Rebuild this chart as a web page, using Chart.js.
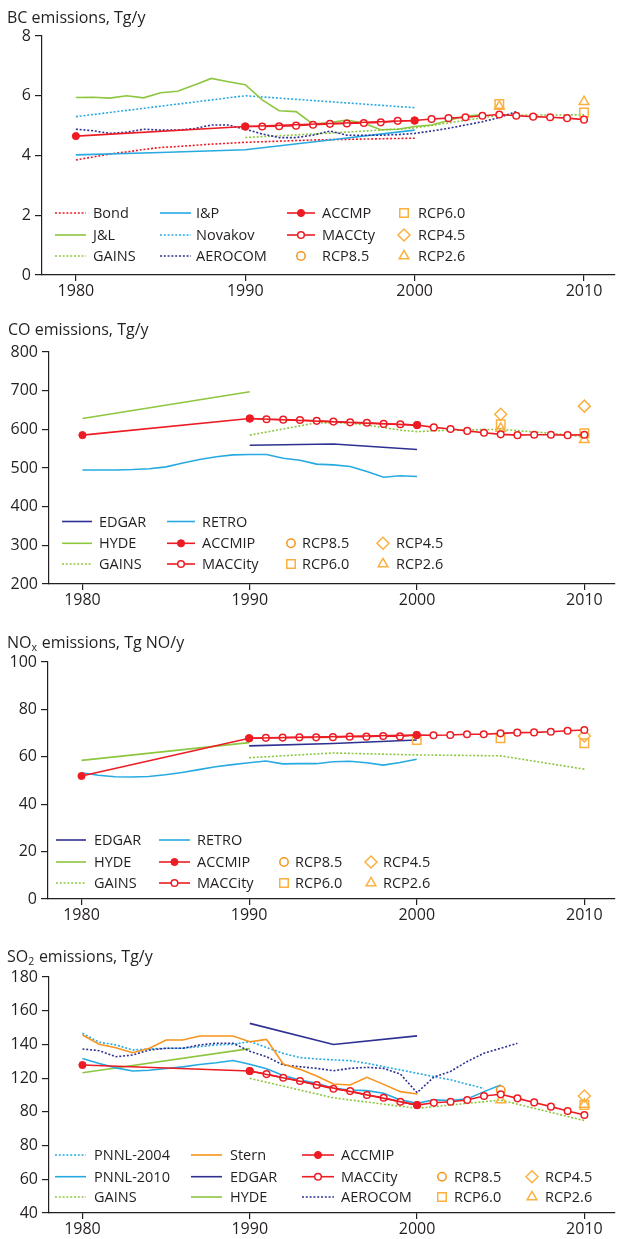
<!DOCTYPE html>
<html><head><meta charset="utf-8">
<script src="https://cdn.jsdelivr.net/npm/chart.js@4.4.1/dist/chart.umd.min.js"></script>
<style>
html,body{margin:0;padding:0;background:#fff;}
body{width:622px;height:1239px;position:relative;overflow:hidden;}
canvas{position:absolute;left:0;}
</style></head><body>
<canvas id="bc" width="622" height="300" style="top:0px"></canvas>
<canvas id="co" width="622" height="310" style="top:300px"></canvas>
<canvas id="nox" width="622" height="318" style="top:610px"></canvas>
<canvas id="so2" width="622" height="311" style="top:928px"></canvas>
<script>
// ---------- shared categories ----------
const X_TICKS = [1980, 1990, 2000, 2010];
const Y80_00 = [1980,1981,1982,1983,1984,1985,1986,1987,1988,1989,1990,1991,1992,1993,1994,1995,1996,1997,1998,1999,2000];
const Y90_10 = [1990,1991,1992,1993,1994,1995,1996,1997,1998,1999,2000,2001,2002,2003,2004,2005,2006,2007,2008,2009,2010];
const Y80_04 = [1980,1981,1982,1983,1984,1985,1986,1987,1988,1989,1990,1991,1992,1993,1994,1995,1996,1997,1998,1999,2000,2001,2002,2003,2004];
const Y80_05 = [1980,1981,1982,1983,1984,1985,1986,1987,1988,1989,1990,1991,1992,1993,1994,1995,1996,1997,1998,1999,2000,2001,2002,2003,2004,2005];
const Y80_06 = [1980,1981,1982,1983,1984,1985,1986,1987,1988,1989,1990,1991,1992,1993,1994,1995,1996,1997,1998,1999,2000,2001,2002,2003,2004,2005,2006];
const Y80_90_00 = [1980, 1990, 2000];
const Y80_90 = [1980, 1990];
const Y90_95_00 = [1990, 1995, 2000];
const Y90_5YR = [1990, 1995, 2000, 2005, 2010];
const Y80_85_90_95_00 = [1980, 1985, 1990, 1995, 2000];
const Y05_10 = [2005, 2010];

// ---------- BC ----------
const BC_Y_TICKS = [0, 2, 4, 6, 8];
const BC_Y_LABELS = ["0", "2", "4", "6", "8"];
const BC_BOND = [3.85,3.95,4.05,4.12,4.2,4.27,4.3,4.34,4.38,4.41,4.44,4.46,4.48,4.5,4.52,4.53,4.54,4.55,4.56,4.57,4.58];
const BC_JL = [5.94,5.95,5.92,6.0,5.93,6.1,6.15,6.36,6.58,6.47,6.37,5.86,5.5,5.47,5.05,5.1,5.19,5.08,4.86,4.88,4.97,5.02,5.17,5.32,5.36];
const BC_IP = [4.02,4.1,4.19,4.52,4.85];
const BC_NOVAKOV = [5.3,6.0,5.6];
const BC_GAINS = [4.6,4.75,4.92,5.35,5.36];
const BC_AEROCOM = [4.88,4.83,4.74,4.78,4.88,4.85,4.85,4.9,5.02,5.02,4.88,4.72,4.6,4.6,4.68,4.82,4.68,4.68,4.68,4.7,4.74,4.82,4.91,5.02,5.13,5.27,5.47];
const BC_ACCMIP = [4.65,4.97,5.17];
const BC_MACCITY = [4.97,4.97,4.98,5.0,5.03,5.06,5.07,5.09,5.11,5.16,5.17,5.22,5.25,5.28,5.33,5.37,5.33,5.30,5.28,5.25,5.2];
const BC_RCP60 = [5.72,5.44];
const BC_RCP26 = [5.64,5.8];

// ---------- CO ----------
const CO_Y_TICKS = [200,300,400,500,600,700,800];
const CO_Y_LABELS = ["200","300","400","500","600","700","800"];
const CO_EDGAR = [559,562,548];
const CO_RETRO = [495,495,495,496,498,503,513,522,529,534,535,535,525,520,510,508,504,491,476,480,478];
const CO_HYDE = [628,697];
const CO_ACCMIP = [585,628,611];
const CO_MACCITY = [628,626,625,624,622,620,618,617,614,613,611,605,601,596,591,587,585,586,586,585,586];
const CO_GAINS_YEARS = [1990,1993,1994,1996,1997,1999,2000,2002,2005,2008,2010];
const CO_GAINS = [585,609,617,616,611,598,594,598,600,590,581];
const CO_RCP60 = [613,590];
const CO_RCP45 = [639,660];
const CO_RCP26 = [602,573];

// ---------- NOx ----------
const NOX_Y_TICKS = [0,20,40,60,80,100];
const NOX_Y_LABELS = ["0","20","40","60","80","100"];
const NOX_EDGAR = [64.6,65.6,67.1];
const NOX_RETRO = [53.3,52.2,51.6,51.5,51.7,52.4,53.4,54.6,55.8,56.7,57.5,58.2,57.0,57.1,57.1,57.9,58.1,57.5,56.5,57.6,59.0];
const NOX_HYDE = [58.5,66.0];
const NOX_ACCMIP = [51.9,67.8,69.2];
const NOX_MACCITY = [67.8,68.0,68.1,68.2,68.2,68.3,68.5,68.5,68.8,68.6,69.2,69.1,69.2,69.5,69.5,69.9,70.2,70.3,70.6,71.0,71.3];
const NOX_GAINS = [59.6,61.6,60.8,60.4,54.8];
const NOX_RCP60_YEARS = [2000,2005,2010];
const NOX_RCP60 = [67.1,67.8,65.7];
const NOX_RCP45_YEARS = [2010];
const NOX_RCP45 = [68.8];

// ---------- SO2 ----------
const SO2_Y_TICKS = [40,60,80,100,120,140,160,180];
const SO2_Y_LABELS = ["40","60","80","80","120","140","160","180"];
const SO2_PNNL2004 = [146.6,141.3,139.7,136.7,137.3,137.7,137.7,138.7,139.7,140.1,141.7,138.2,134.7,132.2,131.4,130.8,130.4,128.8,126.8,124.9,122.9,120.9,119,116.4,113.9];
const SO2_PNNL2010 = [131.7,128.7,126.1,124.2,124.7,125.7,126.7,128.1,129.1,130.5,128.2,125.6,121.5,118.9,116.9,114,113,112.6,111,107.1,105.1,107.1,106.7,107.7,112,116];
const SO2_GAINS = [119.9,108.3,102.1,107,94.8];
const SO2_STERN = [145.6,140.1,138,135.1,137.7,142.6,142.6,145,145,145,141.6,143,128.4,125.2,121.3,116.5,115.9,120.5,116.3,112,110.6];
const SO2_EDGAR = [152.5,140,145.1];
const SO2_HYDE = [123.2,137.5];
const SO2_ACCMIP = [127.8,124.2,104];
const SO2_MACCITY = [124.2,122.4,120.2,118.3,115.9,113.7,112.3,110,108.4,106,104,105.4,106,107,109.4,110.4,108,105.6,103.1,100.5,98.1];
const SO2_AEROCOM = [137.3,136.3,132.7,133.7,136.7,137.7,137.7,139.7,140.7,140.7,136,132.7,127.8,126.8,125.8,124.4,125.8,126.4,125.8,122.4,111.4,120.6,124,129.9,134.8,137.7,140.7];
const SO2_RCP85_YEARS = [2005];
const SO2_RCP85 = [112.8];
const SO2_RCP60_YEARS = [2010];
const SO2_RCP60 = [104.1];
const SO2_RCP45_YEARS = [2010];
const SO2_RCP45 = [109.4];
const SO2_RCP26 = [107,104.4];

// ---------- styling ----------
const INK = '#231f20';
const RED = '#ed1c24';
const GREEN = '#8dc63f';
const LBLUE = '#27aae1';
const DBLUE = '#2e3192';
const ORANGE = '#f7941d';
const RCPC = '#fbb040';
const DOT = [2, 1.8];
const FONT = "'Open Sans', 'Noto Sans', sans-serif";
Chart.defaults.font.family = FONT;
Chart.defaults.color = INK;

function pts(years, vals) { return years.map((x, i) => ({ x: x, y: vals[i] })); }
function lineDS(label, years, vals, color, dash) {
  return { label, data: pts(years, vals), borderColor: color, backgroundColor: color, borderWidth: 1.6,
    borderDash: dash || [], pointRadius: 0, pointHoverRadius: 0, fill: false, tension: 0 };
}
function accmipDS(label, years, vals) {
  return { label, data: pts(years, vals), borderColor: RED, backgroundColor: RED, borderWidth: 1.6,
    pointRadius: 3.6, pointStyle: 'circle', pointBackgroundColor: RED, pointBorderColor: RED, pointBorderWidth: 1, fill: false, tension: 0 };
}
function maccDS(label, years, vals) {
  return { label, data: pts(years, vals), borderColor: RED, backgroundColor: RED, borderWidth: 1.6,
    pointRadius: 3.3, pointStyle: 'circle', pointBackgroundColor: '#ffffff', pointBorderColor: RED, pointBorderWidth: 1.5, fill: false, tension: 0 };
}
const RCP_SHAPES = { 'RCP8.5': ['circle', 4.2, ORANGE], 'RCP6.0': ['rect', 6, RCPC], 'RCP4.5': ['rectRot', 6, RCPC], 'RCP2.6': ['triangle', 5.6, RCPC] };
function rcpDS(label, years, vals) {
  const s = RCP_SHAPES[label];
  return { label, data: pts(years, vals), showLine: false, borderColor: s[2], backgroundColor: 'rgba(0,0,0,0)',
    pointStyle: s[0], pointRadius: s[1], pointBorderColor: s[2], pointBackgroundColor: 'rgba(0,0,0,0)', pointBorderWidth: 1.5 };
}

function drawMarker(ctx, style, x, y, r, fill, stroke, lw) {
  ctx.beginPath();
  if (style === 'circle') { ctx.arc(x, y, r, 0, Math.PI * 2); }
  else if (style === 'rect') { const s = Math.SQRT1_2 * r; ctx.rect(x - s, y - s, 2 * s, 2 * s); }
  else if (style === 'rectRot') { ctx.moveTo(x - r, y); ctx.lineTo(x, y - r); ctx.lineTo(x + r, y); ctx.lineTo(x, y + r); ctx.closePath(); }
  else if (style === 'triangle') {
    let a = 0; ctx.moveTo(x + Math.sin(a) * r, y - Math.cos(a) * r);
    a += 2 * Math.PI / 3; ctx.lineTo(x + Math.sin(a) * r, y - Math.cos(a) * r);
    a += 2 * Math.PI / 3; ctx.lineTo(x + Math.sin(a) * r, y - Math.cos(a) * r); ctx.closePath();
  }
  if (fill && fill !== 'rgba(0,0,0,0)') { ctx.fillStyle = fill; ctx.fill(); }
  ctx.strokeStyle = stroke; ctx.lineWidth = lw; ctx.stroke();
}

const titlePlugin = {
  id: 'panelTitle',
  afterDraw(chart, args, opts) {
    const ctx = chart.ctx; ctx.save();
    ctx.fillStyle = INK; ctx.textBaseline = 'alphabetic'; ctx.textAlign = 'left';
    let x = opts.x;
    for (const p of opts.parts) {
      ctx.font = (p.sub ? '10.5px ' : '16px ') + FONT;
      ctx.fillText(p.text, x, opts.y + (p.sub ? 3 : 0));
      x += ctx.measureText(p.text).width + (p.sub ? 0.5 : 0);
    }
    ctx.restore();
  }
};

const legendPlugin = {
  id: 'panelLegend',
  afterDraw(chart, args, opts) {
    const ctx = chart.ctx;
    for (const it of opts.items) {
      const ds = chart.data.datasets.find(d => d.label === it.label);
      const col = opts.cols[it.col]; const y = opts.rows[it.row];
      ctx.save();
      if (ds.showLine !== false) {
        ctx.strokeStyle = ds.borderColor; ctx.lineWidth = ds.borderWidth; ctx.setLineDash(ds.borderDash || []);
        ctx.beginPath(); ctx.moveTo(col.x0, y); ctx.lineTo(col.x1, y); ctx.stroke();
      }
      ctx.setLineDash([]);
      if (ds.pointRadius > 0) drawMarker(ctx, ds.pointStyle || 'circle', (col.x0 + col.x1) / 2, y, ds.pointRadius, ds.pointBackgroundColor, ds.pointBorderColor, ds.pointBorderWidth);
      ctx.fillStyle = INK; ctx.font = '14.5px ' + FONT; ctx.textBaseline = 'middle'; ctx.textAlign = 'left';
      ctx.fillText(ds.label, col.tx, y + 1);
      ctx.restore();
    }
  }
};

function makeChart(id, datasets, cfg) {
  const yTicks = cfg.yTicks, yLabels = cfg.yLabels;
  return new Chart(document.getElementById(id), {
    type: 'line',
    data: { datasets },
    plugins: [titlePlugin, legendPlugin],
    options: {
      responsive: false, animation: false, devicePixelRatio: 1,
      layout: { padding: { top: cfg.padTop, right: 2, bottom: 0, left: 0 } },
      scales: {
        x: {
          type: 'linear', min: 1978, max: 2011.8,
          afterBuildTicks: s => { s.ticks = X_TICKS.map(v => ({ value: v })); },
          afterFit: s => { s.height = cfg.xH; },
          grid: { drawOnChartArea: false, drawTicks: true, tickLength: 6, color: INK, lineWidth: 1.2 },
          border: { display: true, color: INK, width: 1.2 },
          ticks: { color: INK, font: { size: 16 }, padding: 1, maxRotation: 0, autoSkip: false, callback: v => String(v) }
        },
        y: {
          type: 'linear', min: yTicks[0], max: yTicks[yTicks.length - 1],
          afterBuildTicks: s => { s.ticks = yTicks.map(v => ({ value: v })); },
          afterFit: s => { s.width = cfg.yW; },
          grid: { drawOnChartArea: false, drawTicks: true, tickLength: 7, color: INK, lineWidth: 1.2 },
          border: { display: true, color: INK, width: 1.2 },
          ticks: { color: INK, font: { size: 16 }, padding: 4, autoSkip: false, callback: (v, i) => yLabels[i] }
        }
      },
      plugins: {
        legend: { display: false }, tooltip: { enabled: false },
        panelTitle: cfg.title,
        panelLegend: cfg.legend
      }
    }
  });
}

// ---------- BC panel ----------
makeChart('bc', [
  accmipDS('ACCMP', Y80_90_00, BC_ACCMIP),
  maccDS('MACCty', Y90_10, BC_MACCITY),
  rcpDS('RCP6.0', Y05_10, BC_RCP60),
  rcpDS('RCP2.6', Y05_10, BC_RCP26),
  rcpDS('RCP8.5', [], []),
  rcpDS('RCP4.5', [], []),
  lineDS('AEROCOM', Y80_06, BC_AEROCOM, DBLUE, DOT),
  lineDS('GAINS', Y90_5YR, BC_GAINS, GREEN, DOT),
  lineDS('J&L', Y80_04, BC_JL, GREEN),
  lineDS('Novakov', Y80_90_00, BC_NOVAKOV, LBLUE, DOT),
  lineDS('I&P', Y80_85_90_95_00, BC_IP, LBLUE),
  lineDS('Bond', Y80_00, BC_BOND, RED, DOT)
], {
  padTop: 36, xH: 25, yW: 42, yTicks: BC_Y_TICKS, yLabels: BC_Y_LABELS,
  title: { x: 7, y: 23, parts: [{ text: 'BC emissions, Tg/y' }] },
  legend: {
    rows: [213, 235, 256],
    cols: [{ x0: 55, x1: 86, tx: 93 }, { x0: 160, x1: 191, tx: 196 }, { x0: 287, x1: 315, tx: 322 }, { x0: 397, x1: 411, tx: 418 }],
    items: [
      { label: 'Bond', col: 0, row: 0 }, { label: 'J&L', col: 0, row: 1 }, { label: 'GAINS', col: 0, row: 2 },
      { label: 'I&P', col: 1, row: 0 }, { label: 'Novakov', col: 1, row: 1 }, { label: 'AEROCOM', col: 1, row: 2 },
      { label: 'ACCMP', col: 2, row: 0 }, { label: 'MACCty', col: 2, row: 1 }, { label: 'RCP8.5', col: 2, row: 2 },
      { label: 'RCP6.0', col: 3, row: 0 }, { label: 'RCP4.5', col: 3, row: 1 }, { label: 'RCP2.6', col: 3, row: 2 }
    ]
  }
});

// ---------- CO panel ----------
makeChart('co', [
  accmipDS('ACCMIP', Y80_90_00, CO_ACCMIP),
  maccDS('MACCity', Y90_10, CO_MACCITY),
  rcpDS('RCP4.5', Y05_10, CO_RCP45),
  rcpDS('RCP6.0', Y05_10, CO_RCP60),
  rcpDS('RCP2.6', Y05_10, CO_RCP26),
  rcpDS('RCP8.5', [], []),
  lineDS('GAINS', CO_GAINS_YEARS, CO_GAINS, GREEN, DOT),
  lineDS('HYDE', Y80_90, CO_HYDE, GREEN),
  lineDS('EDGAR', Y90_95_00, CO_EDGAR, DBLUE),
  lineDS('RETRO', Y80_00, CO_RETRO, LBLUE)
], {
  padTop: 52, xH: 26, yW: 49, yTicks: CO_Y_TICKS, yLabels: CO_Y_LABELS,
  title: { x: 8, y: 35, parts: [{ text: 'CO emissions, Tg/y' }] },
  legend: {
    rows: [221.5, 243.3, 264],
    cols: [{ x0: 62, x1: 92, tx: 99 }, { x0: 167, x1: 195, tx: 202 }, { x0: 284, x1: 298, tx: 302 }, { x0: 376, x1: 390, tx: 396 }],
    items: [
      { label: 'EDGAR', col: 0, row: 0 }, { label: 'HYDE', col: 0, row: 1 }, { label: 'GAINS', col: 0, row: 2 },
      { label: 'RETRO', col: 1, row: 0 }, { label: 'ACCMIP', col: 1, row: 1 }, { label: 'MACCity', col: 1, row: 2 },
      { label: 'RCP8.5', col: 2, row: 1 }, { label: 'RCP6.0', col: 2, row: 2 },
      { label: 'RCP4.5', col: 3, row: 1 }, { label: 'RCP2.6', col: 3, row: 2 }
    ]
  }
});

// ---------- NOx panel ----------
makeChart('nox', [
  accmipDS('ACCMIP', Y80_90_00, NOX_ACCMIP),
  maccDS('MACCity', Y90_10, NOX_MACCITY),
  rcpDS('RCP4.5', NOX_RCP45_YEARS, NOX_RCP45),
  rcpDS('RCP6.0', NOX_RCP60_YEARS, NOX_RCP60),
  rcpDS('RCP8.5', [], []),
  rcpDS('RCP2.6', [], []),
  lineDS('GAINS', Y90_5YR, NOX_GAINS, GREEN, DOT),
  lineDS('HYDE', Y80_90, NOX_HYDE, GREEN),
  lineDS('EDGAR', Y90_95_00, NOX_EDGAR, DBLUE),
  lineDS('RETRO', Y80_00, NOX_RETRO, LBLUE)
], {
  padTop: 52, xH: 29, yW: 48, yTicks: NOX_Y_TICKS, yLabels: NOX_Y_LABELS,
  title: { x: 7, y: 38, parts: [{ text: 'NO' }, { text: 'x', sub: true }, { text: ' emissions, Tg NO/y' }] },
  legend: {
    rows: [230, 252, 273],
    cols: [{ x0: 56, x1: 86, tx: 94 }, { x0: 159, x1: 190, tx: 197 }, { x0: 277, x1: 291, tx: 295 }, { x0: 364, x1: 378, tx: 383 }],
    items: [
      { label: 'EDGAR', col: 0, row: 0 }, { label: 'HYDE', col: 0, row: 1 }, { label: 'GAINS', col: 0, row: 2 },
      { label: 'RETRO', col: 1, row: 0 }, { label: 'ACCMIP', col: 1, row: 1 }, { label: 'MACCity', col: 1, row: 2 },
      { label: 'RCP8.5', col: 2, row: 1 }, { label: 'RCP6.0', col: 2, row: 2 },
      { label: 'RCP4.5', col: 3, row: 1 }, { label: 'RCP2.6', col: 3, row: 2 }
    ]
  }
});

// ---------- SO2 panel ----------
makeChart('so2', [
  accmipDS('ACCMIP', Y80_90_00, SO2_ACCMIP),
  maccDS('MACCity', Y90_10, SO2_MACCITY),
  rcpDS('RCP8.5', SO2_RCP85_YEARS, SO2_RCP85),
  rcpDS('RCP4.5', SO2_RCP45_YEARS, SO2_RCP45),
  rcpDS('RCP6.0', SO2_RCP60_YEARS, SO2_RCP60),
  rcpDS('RCP2.6', Y05_10, SO2_RCP26),
  lineDS('GAINS', Y90_5YR, SO2_GAINS, GREEN, DOT),
  lineDS('PNNL-2010', Y80_05, SO2_PNNL2010, LBLUE),
  lineDS('Stern', Y80_00, SO2_STERN, ORANGE),
  lineDS('AEROCOM', Y80_06, SO2_AEROCOM, DBLUE, DOT),
  lineDS('PNNL-2004', Y80_04, SO2_PNNL2004, LBLUE, DOT),
  lineDS('HYDE', Y80_90, SO2_HYDE, GREEN),
  lineDS('EDGAR', Y90_95_00, SO2_EDGAR, DBLUE)
], {
  padTop: 49, xH: 26, yW: 49, yTicks: SO2_Y_TICKS, yLabels: SO2_Y_LABELS,
  title: { x: 7, y: 34, parts: [{ text: 'SO' }, { text: '2', sub: true }, { text: ' emissions, Tg/y' }] },
  legend: {
    rows: [227, 248.7, 269],
    cols: [{ x0: 55, x1: 86, tx: 94 }, { x0: 191, x1: 222, tx: 230 }, { x0: 302, x1: 334, tx: 341 }, { x0: 435, x1: 449, tx: 454 }, { x0: 525, x1: 539, tx: 545 }],
    items: [
      { label: 'PNNL-2004', col: 0, row: 0 }, { label: 'PNNL-2010', col: 0, row: 1 }, { label: 'GAINS', col: 0, row: 2 },
      { label: 'Stern', col: 1, row: 0 }, { label: 'EDGAR', col: 1, row: 1 }, { label: 'HYDE', col: 1, row: 2 },
      { label: 'ACCMIP', col: 2, row: 0 }, { label: 'MACCity', col: 2, row: 1 }, { label: 'AEROCOM', col: 2, row: 2 },
      { label: 'RCP8.5', col: 3, row: 1 }, { label: 'RCP6.0', col: 3, row: 2 },
      { label: 'RCP4.5', col: 4, row: 1 }, { label: 'RCP2.6', col: 4, row: 2 }
    ]
  }
});
</script>
</body></html>
